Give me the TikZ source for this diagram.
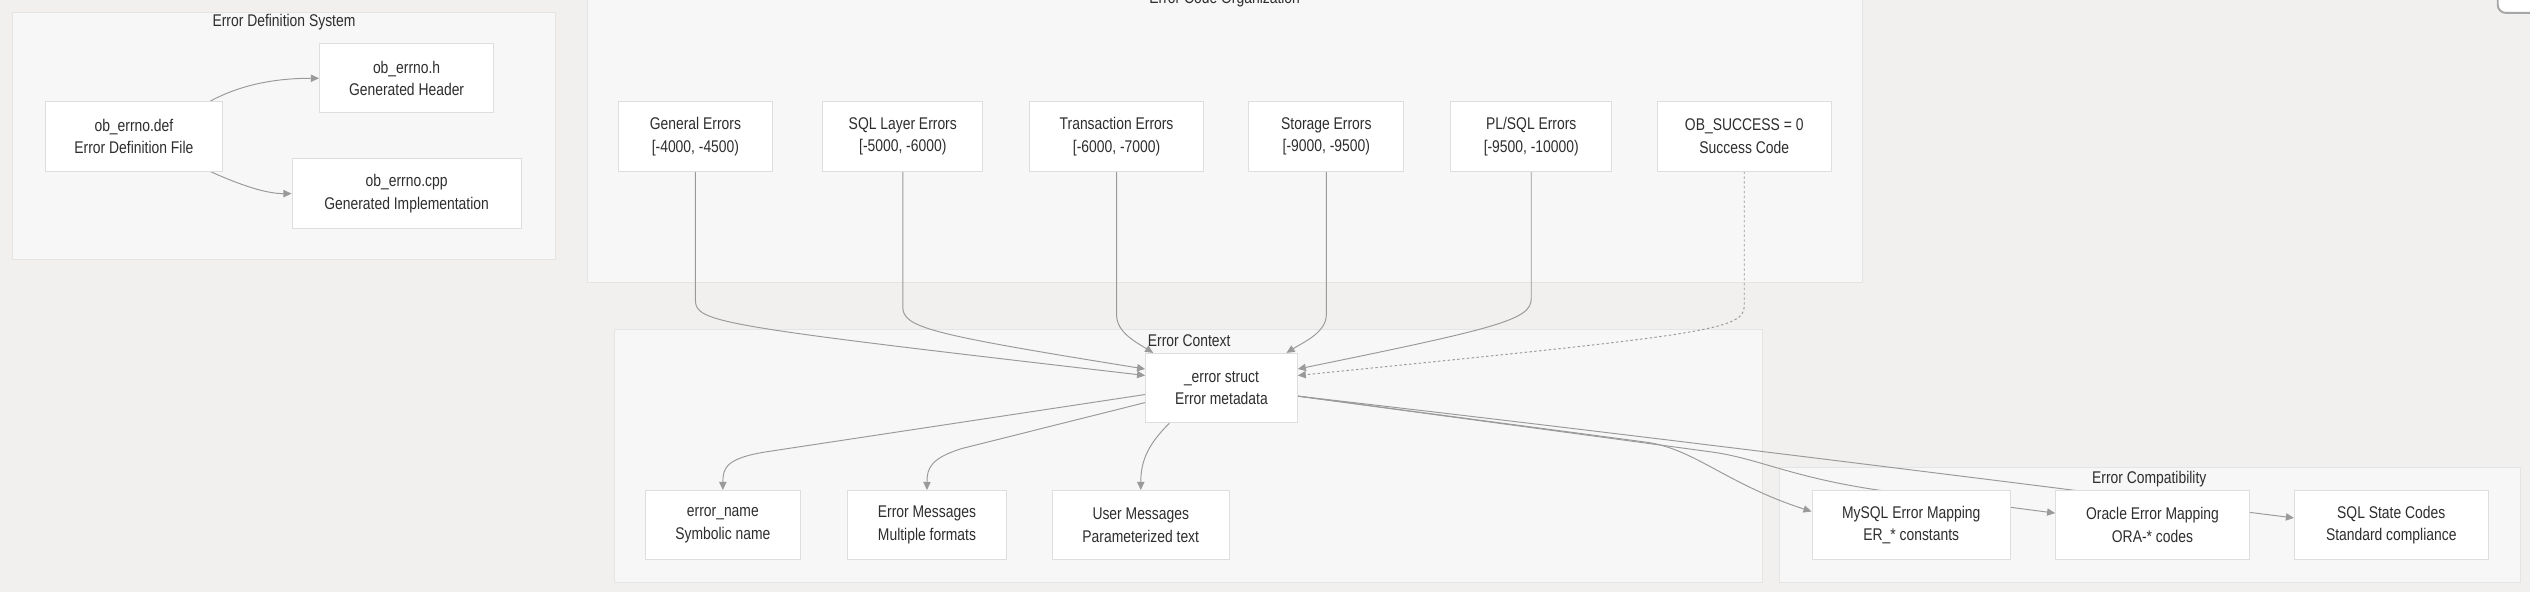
\documentclass[tikz,border=0pt]{standalone}
\usepackage{fontspec}
\setmainfont{Liberation Sans}[FakeStretch=0.82]
\usetikzlibrary{arrows.meta,calc}
\pgfdeclarelayer{background}
\pgfdeclarelayer{edges}
\pgfsetlayers{background,edges,main}
\definecolor{pagebg}{HTML}{F1F0EE}
\definecolor{groupbg}{HTML}{F7F7F7}
\definecolor{groupline}{HTML}{E4E4E4}
\definecolor{boxline}{HTML}{DEDEDE}
\definecolor{edgegray}{HTML}{9A9A9A}
\definecolor{textgray}{HTML}{2E2E2E}
\tikzset{
  box/.style={draw=boxline, fill=white, line width=0.6pt, minimum height=43pt, inner sep=0pt, align=center, font=\fontsize{10.5}{14}\selectfont, text=textgray},
  group/.style={draw=groupline, fill=groupbg, line width=0.6pt},
  grouptitle/.style={font=\fontsize{10.5}{12}\selectfont, text=textgray, inner sep=0pt},
  link/.style={draw=edgegray, line width=0.6pt, -{Triangle[length=5pt,width=4.5pt]}},
  weak/.style={link, dash pattern=on 1.5pt off 1.5pt}
}
\begin{document}
\begin{tikzpicture}[x=1pt,y=-1pt]
\useasboundingbox (0,0) rectangle (1568,367);
\begin{pgfonlayer}{background}
\fill[pagebg] (0,0) rectangle (1568,367);
\draw[group] (8,8) rectangle (344,161);
\draw[group] (364,-10) rectangle (1154,175);
\draw[group] (381,204) rectangle (1092,361);
\draw[group] (1103,290) rectangle (1562,361);
\end{pgfonlayer}
% corner button
\draw[draw=gray!70, fill=white, line width=1.2pt, rounded corners=5pt] (1548,-20) rectangle (1592,8);

% group titles
\node[grouptitle] (DefT) at (176,14) {Error Definition System};
\node[grouptitle] (CodeT) at (759,-0.5) {Error Code Organization};
\node[grouptitle] (CtxT) at (737,211) {Error Context};
\node[grouptitle] (CompT) at (1332,297) {Error Compatibility};

% error definition system
\node[box, minimum width=110pt] (Def) at (83,84.5) {ob\_errno.def\\Error Definition File};
\node[box, minimum width=108pt] (Hdr) at (252,48.5) {ob\_errno.h\\Generated Header};
\node[box, minimum width=142pt] (Cpp) at (252,120) {ob\_errno.cpp\\Generated Implementation};

% error code ranges
\node[box, minimum width=96pt] (Gen) at (431,84.5) {General Errors\\{[-4000, -4500)}};
\node[box, minimum width=99pt] (SQL) at (559.5,84.5) {SQL Layer Errors\\{[-5000, -6000)}};
\node[box, minimum width=108pt] (Txn) at (692,84.5) {Transaction Errors\\{[-6000, -7000)}};
\node[box, minimum width=96pt] (Sto) at (822,84.5) {Storage Errors\\{[-9000, -9500)}};
\node[box, minimum width=100pt] (PL) at (949,84.5) {PL/SQL Errors\\{[-9500, -10000)}};
\node[box, minimum width=108pt] (OK) at (1081,84.5) {OB\_SUCCESS = 0\\Success Code};

% error context
\node[box, minimum width=94pt] (Err) at (757,240.5) {\_error struct\\Error metadata};
\node[box, minimum width=96pt] (Name) at (448,325.5) {error\_name\\Symbolic name};
\node[box, minimum width=99pt] (Msg) at (574.5,325.5) {Error Messages\\Multiple formats};
\node[box, minimum width=110pt] (User) at (707,325.5) {User Messages\\Parameterized text};

% compatibility
\node[box, minimum width=123pt] (MySQL) at (1184.5,325.5) {MySQL Error Mapping\\ER\_* constants};
\node[box, minimum width=120pt] (Ora) at (1334,325.5) {Oracle Error Mapping\\ORA-* codes};
\node[box, minimum width=120pt] (State) at (1482,325.5) {SQL State Codes\\Standard compliance};

\begin{pgfonlayer}{edges}
\draw [link] ($(Def.north east)+(-8,0)$) .. controls (150,52) and (172,48.5) .. (Hdr.west);
\draw [link] ($(Def.south east)+(-8,0)$) .. controls (152,116) and (166,120) .. (Cpp.west);

\draw [link] (Gen.south) -- (431,186) .. controls (431,200) and (445,202) .. ($(Err.north west)+(0,14)$);
\draw [link] (SQL.south) -- (559.5,190) .. controls (559.5,203) and (575,207) .. ($(Err.north west)+(0,10)$);
\draw [link] (Txn.south) -- (692,195) .. controls (692,206) and (704,212) .. ($(Err.north west)+(5,0)$);
\draw [link] (Sto.south) -- (822,195) .. controls (822,206) and (808,212) .. ($(Err.north east)+(-7,0)$);
\draw [link] (PL.south) -- (949,185) .. controls (949,198) and (930,203) .. ($(Err.north east)+(0,10)$);
\draw [weak] (OK.south) -- (1081,190) .. controls (1081,205) and (1050,208) .. ($(Err.north east)+(0,14)$);

\draw [link] ($(Err.west)+(0,4)$) -- (475,280) .. controls (450,284) and (448,290) .. (Name.north);
\draw [link] ($(Err.west)+(0,9)$) -- (596,278) .. controls (577,284) and (574.5,290) .. (Msg.north);
\draw [link] ($(Err.south west)+(15,0)$) .. controls (712,275) and (707,285) .. (User.north);
\draw [link] ($(Err.east)+(0,5)$) -- (1020,274) .. controls (1050,278) and (1070,300) .. ($(MySQL.west)+(0,-8.5)$);
\draw [link] ($(Err.east)+(0,5)$) -- (1060,280) .. controls (1090,284) and (1110,296) .. (1166,304) -- ($(Ora.west)+(0,-7.5)$);
\draw [link] ($(Err.east)+(0,5)$) .. controls (1000,268) and (1200,293) .. ($(State.west)+(0,-4.5)$);
\end{pgfonlayer}
\end{tikzpicture}
\end{document}
